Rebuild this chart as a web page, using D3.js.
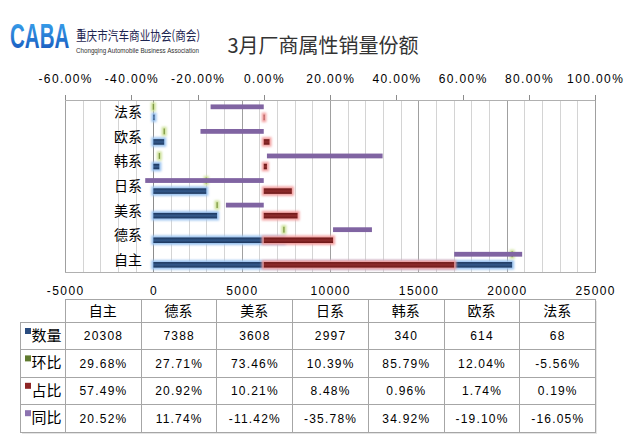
<!DOCTYPE html>
<html><head><meta charset="utf-8">
<script src="https://cdn.jsdelivr.net/npm/d3@7"></script>
<style>body{margin:0;background:#fff}svg{display:block}</style>
</head><body>
<script>
// ---- data ----
const categories = ['自主','德系','美系','日系','韩系','欧系','法系'];
const quantity   = [20308,7388,3608,2997,340,614,68];
const momPct     = [29.68,27.71,73.46,10.39,85.79,12.04,-5.56];   // 环比
const sharePct   = [57.49,20.92,10.21,8.48,0.96,1.74,0.19];       // 占比
const yoyPct     = [20.52,11.74,-11.42,-35.78,34.92,-19.10,-16.05]; // 同比
const seriesNames = ['数量','环比','占比','同比'];
const topTicks    = [-60,-40,-20,0,20,40,60,80,100];
const bottomTicks = [-5000,0,5000,10000,15000,20000,25000];
const titleText = '3月厂商属性销量份额';
const orgName = '重庆市汽车商业协会(商会)';
const orgNameEn = 'Chongqing Automobile Business Association';

// ---- layout ----
const W = 632, H = 443;
const plot = {l:65, r:595, t:100, b:272};
const svg = d3.select('body').append('svg').attr('width',W).attr('height',H)
  .style('font-family','"Liberation Sans", Arial, sans-serif');
svg.append('rect').attr('width',W).attr('height',H).attr('fill','#fff');

const defs = svg.append('defs');
const f = defs.append('filter').attr('id','glow').attr('x','-50%').attr('y','-100%').attr('width','200%').attr('height','300%');
f.append('feGaussianBlur').attr('stdDeviation',1.3);
function vgrad(id, edge, mid){
  const g = defs.append('linearGradient').attr('id',id).attr('x1',0).attr('y1',0).attr('x2',0).attr('y2',1);
  g.append('stop').attr('offset','0%').attr('stop-color',edge);
  g.append('stop').attr('offset','50%').attr('stop-color',mid);
  g.append('stop').attr('offset','100%').attr('stop-color',edge);
}
vgrad('gBlue','#1b355b','#345a8c');
vgrad('gRed','#6b1717','#8f2c2c');
const lg = defs.append('linearGradient').attr('id','gLogo').attr('x1',0).attr('y1',0).attr('x2',0).attr('y2',1);
lg.append('stop').attr('offset','0%').attr('stop-color','#3fb0f5');
lg.append('stop').attr('offset','100%').attr('stop-color','#1450b8');

// ---- scales ----
const xB = d3.scaleLinear().domain([-5000,25000]).range([plot.l,plot.r]);
const xT = d3.scaleLinear().domain([-60,100]).range([plot.l,plot.r]);
const order = categories.slice().reverse(); // 法系 top ... 自主 bottom
const y = d3.scaleBand().domain(order).range([plot.t,plot.b]).padding(0);
const bw = y.bandwidth();

// ---- logo & title ----
svg.append('text').attr('transform','translate(10,48) scale(0.57,1)').text('CABA')
  .attr('font-family','"Liberation Sans", Arial').attr('font-weight','bold')
  .attr('font-size',36).attr('fill','url(#gLogo)');
svg.append('text').attr('x',76).attr('y',40).text(orgName)
  .attr('font-family','"Noto Sans CJK SC"').attr('font-size',13)
  .attr('textLength',124).attr('lengthAdjust','spacingAndGlyphs').attr('fill','#1c2450');
svg.append('text').attr('x',76).attr('y',52.5).text(orgNameEn)
  .attr('font-family','"Liberation Sans Narrow","Liberation Sans"').attr('font-size',7.5)
  .attr('textLength',123).attr('lengthAdjust','spacingAndGlyphs').attr('fill','#333');
svg.append('text').attr('x',323).attr('y',52.5).attr('text-anchor','middle').text(titleText)
  .attr('font-family','"Noto Sans CJK SC"').attr('font-size',20).attr('fill','#333');

// ---- gridlines ----
const grid = svg.append('g');
const minor = d3.range(-5000,25001,1000);
grid.selectAll('line.g').data(minor).join('line')
  .attr('x1',d=>Math.round(xB(d))+0.5).attr('x2',d=>Math.round(xB(d))+0.5)
  .attr('y1',plot.t).attr('y2',plot.b)
  .attr('stroke',d=> d%5000===0 ? '#a0a0a0' : '#d4d4d4').attr('stroke-width',1);
grid.append('line').attr('x1',plot.l).attr('x2',plot.r+1).attr('y1',plot.t+0.5).attr('y2',plot.t+0.5).attr('stroke','#b0b0b0');
grid.append('line').attr('x1',plot.l).attr('x2',plot.r+1).attr('y1',plot.b+0.5).attr('y2',plot.b+0.5).attr('stroke','#b0b0b0');
grid.append('line').attr('x1',Math.round(xB(0))+0.5).attr('x2',Math.round(xB(0))+0.5)
  .attr('y1',plot.t).attr('y2',plot.b).attr('stroke','#8c8c8c');

// ---- top axis (secondary, %) ----
const topAxis = svg.append('g');
topAxis.selectAll('line').data(topTicks).join('line')
  .attr('x1',d=>Math.round(xT(d))+0.5).attr('x2',d=>Math.round(xT(d))+0.5)
  .attr('y1',plot.t-5).attr('y2',plot.t).attr('stroke','#8c8c8c');
topAxis.selectAll('text').data(topTicks).join('text')
  .attr('x',d=>xT(d)+0.7).attr('y',83).attr('text-anchor','middle')
  .attr('font-size',12).style('letter-spacing','1.4px').attr('fill','#000')
  .text(d=>d.toFixed(2)+'%');

// ---- bottom axis (primary, count) ----
svg.append('g').selectAll('text').data(bottomTicks).join('text')
  .attr('x',d=>xB(d)+0.7).attr('y',295).attr('text-anchor','middle')
  .attr('font-size',12).style('letter-spacing','1.4px').attr('fill','#000')
  .text(d=>d);

// ---- category labels ----
svg.append('g').selectAll('text').data(order).join('text')
  .attr('x',142).attr('y',d=>y(d)+bw/2+5).attr('text-anchor','end')
  .attr('font-family','"Noto Sans CJK SC"').attr('font-size',14).attr('fill','#000')
  .text(d=>d);

// ---- bars ----
const rows = categories.map((c,i)=>({c, q:quantity[i], m:momPct[i], s:sharePct[i], yo:yoyPct[i]}));
const upY = d=>y(d.c)+bw*0.18, upH = bw*0.195;
const loY = d=>y(d.c)+bw*0.595, loH = bw*0.225;
const bars = svg.append('g');

function glowBar(g, x0, x1, yy, hh, glowCol, fill){
  const a = Math.min(x0,x1), w = Math.abs(x1-x0);
  g.append('rect').attr('x',a-2).attr('y',yy-2).attr('width',w+4).attr('height',hh+4)
    .attr('fill',glowCol).attr('filter','url(#glow)');
  g.append('rect').attr('x',a).attr('y',yy).attr('width',w).attr('height',hh).attr('fill',fill);
}
rows.forEach(d=> glowBar(bars, xB(0), xB(d.q), loY(d), loH, '#9cc4f0', 'url(#gBlue)'));
rows.forEach(d=>{
  const base = d.m >= 0 ? d.q : 0;
  const xv = xB(base + d.m/100);
  bars.append('rect').attr('x',xv-2.5).attr('y',upY(d)-2.2).attr('width',5).attr('height',upH+4.4)
    .attr('fill','#cfe29c').attr('filter','url(#glow)');
  bars.append('rect').attr('x',xv-0.6).attr('y',upY(d)-0.5).attr('width',1.3).attr('height',upH+1)
    .attr('fill','#7f9a45');
});
rows.forEach(d=> glowBar(bars, xT(0), xT(d.s), loY(d), loH, '#f3a2a2', 'url(#gRed)'));
rows.forEach(d=>{
  const start = d.yo >= 0 ? d.s : 0;
  const x0 = xT(start), x1 = xT(start + d.yo);
  bars.append('rect').attr('x',Math.min(x0,x1)).attr('y',upY(d)).attr('width',Math.abs(x1-x0)).attr('height',upH)
    .attr('fill','#8064a2');
});
svg.append('line').attr('x1',plot.r+0.5).attr('x2',plot.r+0.5).attr('y1',plot.t).attr('y2',plot.b+1).attr('stroke','#a0a0a0');

// ---- data table ----
const tbl = svg.append('g');
const colX = d3.scaleBand().domain(categories).range([plot.l,plot.r]);
const hdrTop = 299, hdrBot = 322, rowH = 27.4;
const rowTop = i => hdrBot + i*rowH;
const tblBot = rowTop(4);
const lc = '#a6a6a6';
tbl.append('line').attr('x1',plot.l).attr('x2',plot.r+1).attr('y1',hdrTop+0.5).attr('y2',hdrTop+0.5).attr('stroke',lc);
d3.range(5).forEach(i=>{
  tbl.append('line').attr('x1',20).attr('x2',plot.r+1).attr('y1',Math.round(rowTop(i))+0.5).attr('y2',Math.round(rowTop(i))+0.5).attr('stroke',lc);
});
categories.concat(['_end']).forEach((c,i)=>{
  const xx = Math.round(plot.l + i*colX.bandwidth())+0.5;
  tbl.append('line').attr('x1',xx).attr('x2',xx).attr('y1',hdrTop).attr('y2',tblBot+1).attr('stroke',lc);
});
tbl.append('line').attr('x1',20.5).attr('x2',20.5).attr('y1',hdrBot).attr('y2',tblBot+1).attr('stroke',lc);
tbl.append('line').attr('x1',22).attr('x2',plot.r+2).attr('y1',Math.round(tblBot)+1.5).attr('y2',Math.round(tblBot)+1.5).attr('stroke','#e4e4e4');
tbl.append('line').attr('x1',plot.r+1.5).attr('x2',plot.r+1.5).attr('y1',hdrTop+2).attr('y2',tblBot+2).attr('stroke','#e4e4e4');

tbl.selectAll('text.h').data(categories).join('text')
  .attr('x',d=>colX(d)+colX.bandwidth()/2).attr('y',hdrTop+16.5).attr('text-anchor','middle')
  .attr('font-family','"Noto Sans CJK SC"').attr('font-size',14).attr('fill','#000').text(d=>d);

const legendCols = ['#2a4c7f','#5f7a2e','#8e2525','#8c72b0'];
const tableRows = [
  quantity.map(v=>String(v)),
  momPct.map(v=>v.toFixed(2)+'%'),
  sharePct.map(v=>v.toFixed(2)+'%'),
  yoyPct.map(v=>v.toFixed(2)+'%')
];
seriesNames.forEach((name,i)=>{
  const t = rowTop(i);
  tbl.append('rect').attr('x',25).attr('y',t+6).attr('width',6).attr('height',6).attr('fill',legendCols[i]);
  tbl.append('text').attr('x',31.5).attr('y',t+19).attr('font-family','"Noto Sans CJK SC"')
    .attr('font-size',15).attr('fill','#000').text(name);
  tableRows[i].forEach((v,j)=>{
    tbl.append('text').attr('x',colX(categories[j])+colX.bandwidth()/2+0.6).attr('y',t+18.3)
      .attr('text-anchor','middle').attr('font-size',12).style('letter-spacing','1.2px')
      .attr('fill','#000').text(v);
  });
});
</script>
</body></html>
